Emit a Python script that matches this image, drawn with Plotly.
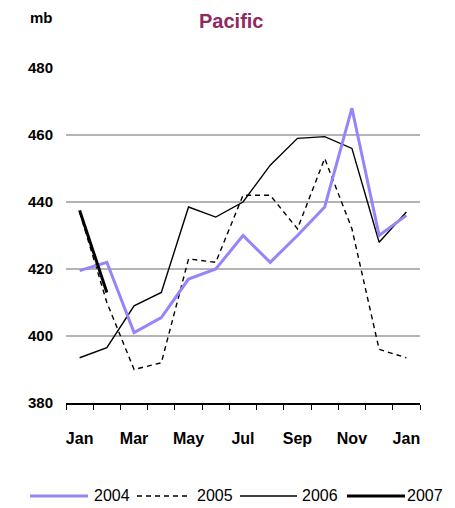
import plotly.graph_objects as go

months = ["Jan", "Feb", "Mar", "Apr", "May", "Jun", "Jul", "Aug", "Sep", "Oct", "Nov", "Dec", "Jan"]
tick_labels = ["Jan", "Mar", "May", "Jul", "Sep", "Nov", "Jan"]
y_ticks = [380, 400, 420, 440, 460, 480]

s2004 = [419.5, 422, 401, 405.5, 417, 420, 430, 422, 430, 438.5, 468, 430, 436]
s2005 = [437, 410, 390, 392, 423, 422, 442, 442, 432, 453, 432, 396, 393.5]
s2006 = [393.5, 396.5, 409, 413, 438.5, 435.5, 440, 451, 459, 459.5, 456, 428, 437]
s2007 = [437.5, 413]

FONT = "Liberation Sans, Arial, sans-serif"
PURPLE = "#9A82FB"

x_idx = list(range(len(months)))

fig = go.Figure()
fig.add_trace(go.Scatter(x=x_idx, y=s2005, mode="lines", name="2005",
                         line=dict(color="black", width=1.4, dash="5px,4px")))
fig.add_trace(go.Scatter(x=x_idx, y=s2006, mode="lines", name="2006",
                         line=dict(color="black", width=1.4)))
fig.add_trace(go.Scatter(x=x_idx, y=s2004, mode="lines", name="2004",
                         line=dict(color=PURPLE, width=3)))
fig.add_trace(go.Scatter(x=x_idx[:len(s2007)], y=s2007, mode="lines", name="2007",
                         line=dict(color="black", width=3)))

# page body adds an 8px offset; figure sized to fit the 455x508 window
fig.update_layout(
    width=447, height=500,
    margin=dict(l=58, r=35, t=60, b=105),
    paper_bgcolor="white", plot_bgcolor="white",
    showlegend=False,
    font=dict(family=FONT, size=14, color="black"),
)
fig.update_xaxes(
    range=[-0.5, 12.5],
    tickvals=[0, 2, 4, 6, 8, 10, 12], ticktext=tick_labels,
    ticks="", showgrid=False, zeroline=False,
    showline=True, linecolor="black", linewidth=1.5,
    tickfont=dict(family=FONT, size=16, color="black", weight="bold"),
    ticklabelstandoff=20,
    minor=dict(ticks="outside", tick0=-0.5, dtick=1, ticklen=5, tickcolor="black",
               tickwidth=1.2, showgrid=False),
)
fig.update_yaxes(
    range=[380, 480], tickvals=y_ticks,
    showgrid=True, gridcolor="#B4B4B4", gridwidth=1.5,
    zeroline=False, showline=False, ticks="",
    tickfont=dict(family=FONT, size=15, color="black", weight="bold"),
    ticklabelstandoff=12,
)

# titles
fig.add_annotation(text="Pacific", xref="paper", yref="paper", x=0.465, y=1.0,
                   yshift=60, showarrow=False,
                   font=dict(family=FONT, size=20, color="#8E2A60", weight="bold"))
fig.add_annotation(text="mb", xref="paper", yref="paper", x=-0.03, y=1.0,
                   xanchor="right", yshift=61, showarrow=False,
                   font=dict(family=FONT, size=15, color="black", weight="bold"))

# manual legend (positions in page pixels of the plot area: x 66..420, y 68..403)
legend_items = [
    ("2004", PURPLE, 3, "solid", 30, 88, 92),
    ("2005", "black", 1.4, "5px,4px", 137, 190, 195),
    ("2006", "black", 1.4, "solid", 240, 297, 300),
    ("2007", "black", 3, "solid", 347, 405, 405),
]
ly = 496
for name, col, w, dash, x0, x1, tx in legend_items:
    fig.add_shape(type="line", xref="paper", yref="paper",
                  x0=(x0 - 66) / 354, x1=(x1 - 66) / 354,
                  y0=(403 - ly) / 335, y1=(403 - ly) / 335,
                  line=dict(color=col, width=w, dash=dash))
    fig.add_annotation(text=name, xref="paper", yref="paper",
                       x=(tx - 66) / 354, y=(403 - ly) / 335,
                       xanchor="left", yanchor="middle", showarrow=False,
                       font=dict(family=FONT, size=16, color="black"))

fig.write_html("out.html")
